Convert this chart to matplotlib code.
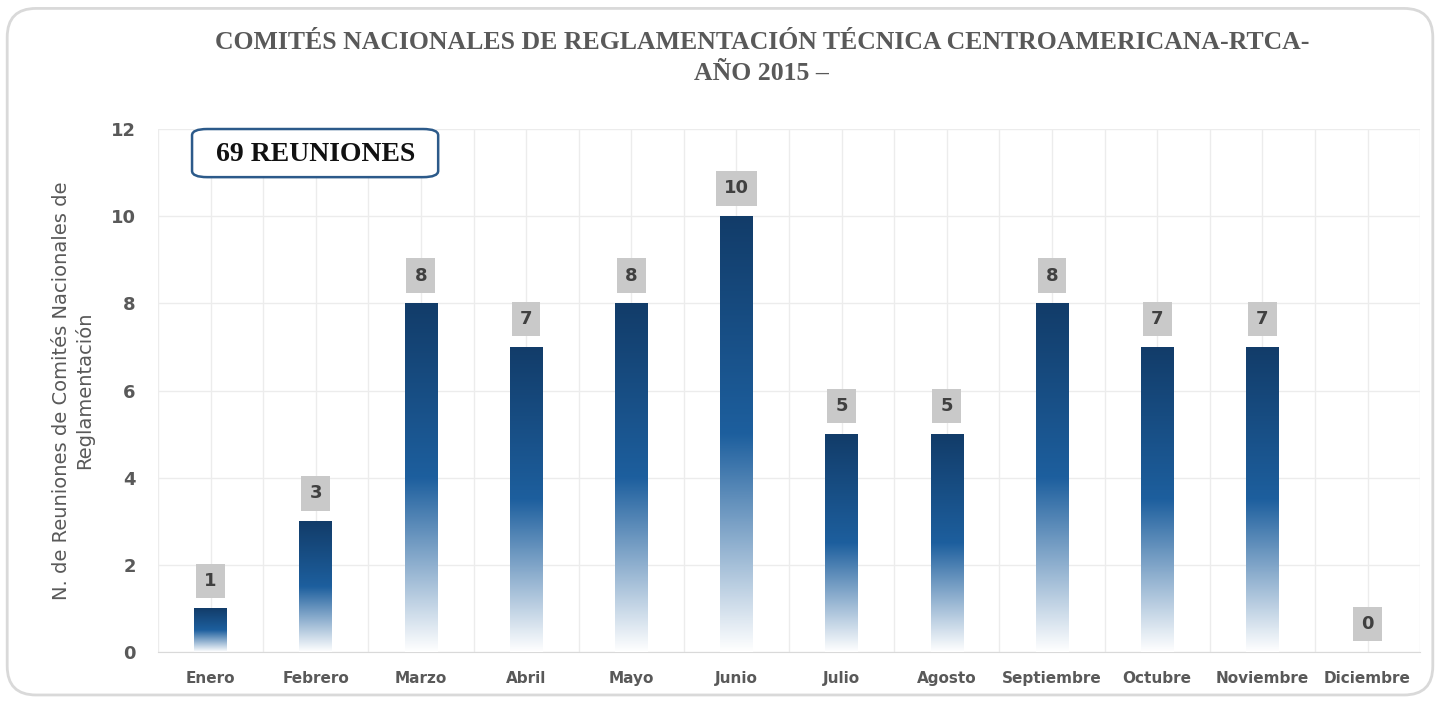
import numpy as np
import matplotlib.pyplot as plt
from matplotlib.colors import LinearSegmentedColormap
from matplotlib.patches import FancyBboxPatch

meses = ['Enero', 'Febrero', 'Marzo', 'Abril', 'Mayo', 'Junio', 'Julio',
         'Agosto', 'Septiembre', 'Octubre', 'Noviembre', 'Diciembre']
reuniones = [1, 3, 8, 7, 8, 10, 5, 5, 8, 7, 7, 0]
titulo = 'COMITÉS NACIONALES DE REGLAMENTACIÓN TÉCNICA CENTROAMERICANA-RTCA-\nAÑO 2015 –'
ylabel = 'N. de Reuniones de Comités Nacionales de\nReglamentación'
total_txt = '69 REUNIONES'

gris = '#595959'
# gradient: white at bottom -> blue middle -> navy top
cmap = LinearSegmentedColormap.from_list(
    'barra', [(0, '#ffffff'), (0.5, '#1d5f9e'), (1.0, '#123c69')])
grad = np.linspace(0, 1, 256).reshape(-1, 1)

fig = plt.figure(figsize=(14.4, 7.02), dpi=100)
borde = FancyBboxPatch((0.005, 0.01), 0.99, 0.978,
                       boxstyle='round,pad=0,rounding_size=0.02',
                       transform=fig.transFigure, fc='white',
                       ec='#d9d9d9', lw=2, mutation_aspect=1440/702, zorder=-5)
fig.patches.append(borde)
ax = fig.add_axes([0.1097, 0.0712, 0.8765, 0.745])
ax.set_facecolor('none')

x = np.arange(len(meses))
w = 0.31
bars = ax.bar(x, reuniones, width=w, color='none', edgecolor='none', zorder=3)
for b, v in zip(bars, reuniones):
    if v > 0:
        im = ax.imshow(grad, cmap=cmap, origin='lower', aspect='auto',
                       extent=[b.get_x(), b.get_x() + w, 0, v], zorder=3)
        im.set_clip_path(b)
    ax.annotate(str(v), (b.get_x() + w / 2, v), xytext=(0, 20),
                textcoords='offset points', ha='center', va='center',
                fontsize=13, fontweight='bold', color='#404040',
                bbox=dict(boxstyle='square,pad=0.45', fc='#c9c9c9', ec='none'),
                zorder=5)

ax.set_xlim(-0.5, len(meses) - 0.5)
ax.set_ylim(0, 12)
ax.set_yticks(range(0, 13, 2))
ax.set_xticks(x)
ax.set_xticklabels(meses)
ax.set_xticks(np.arange(-0.5, len(meses), 1), minor=True)
ax.grid(True, which='both', color='#ececec', lw=1, zorder=0)
ax.set_axisbelow(True)
ax.tick_params(which='both', length=0)
ax.tick_params(axis='x', labelsize=11, labelcolor=gris, pad=14)
ax.tick_params(axis='y', labelsize=13, labelcolor=gris, pad=16)
for t in ax.get_xticklabels() + ax.get_yticklabels():
    t.set_fontweight('bold')
for s in ['top', 'right', 'left']:
    ax.spines[s].set_visible(False)
ax.spines['bottom'].set_color('#d9d9d9')

ax.set_ylabel(ylabel, fontsize=14, color=gris, labelpad=12)
fig.text(0.529, 0.917, titulo, ha='center', va='center', fontsize=18.5,
         fontweight='bold', color=gris, family='Liberation Serif',
         linespacing=1.45)

ax.add_patch(FancyBboxPatch((0.027, 0.908), 0.195, 0.092,
                            boxstyle='round,pad=0,rounding_size=0.012',
                            transform=ax.transAxes, fc='white', ec='#2c5a8a',
                            lw=1.8, zorder=6, clip_on=False))
ax.text(0.125, 0.952, total_txt, transform=ax.transAxes, ha='center',
        va='center', fontsize=20, fontweight='bold', color='#111111',
        family='Liberation Serif', zorder=7)

fig.savefig('out.png', dpi=100)
